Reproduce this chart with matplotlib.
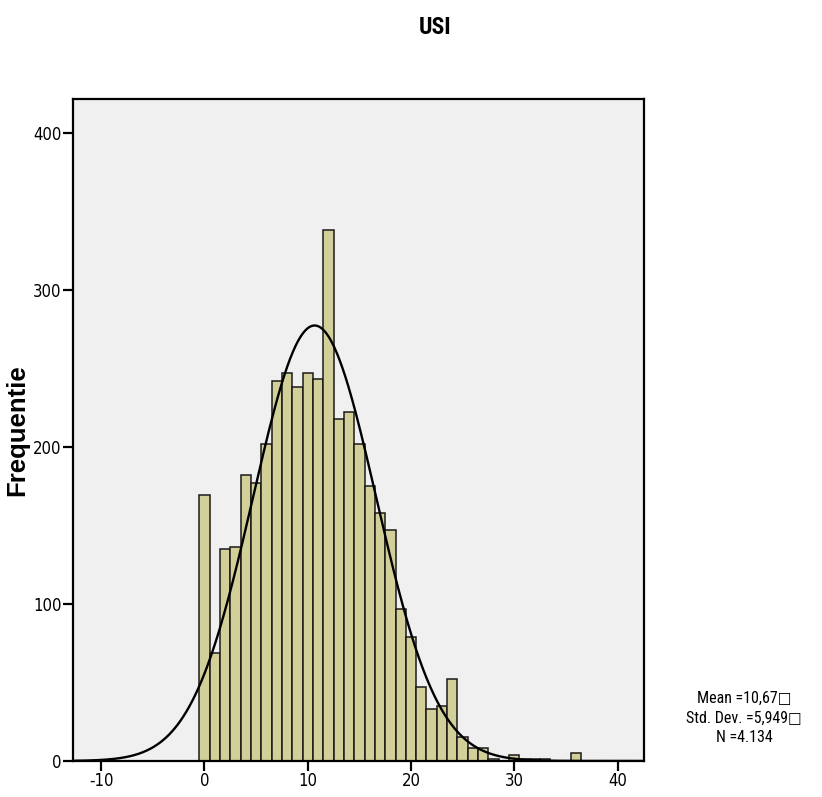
import matplotlib
matplotlib.use("Agg")
import matplotlib.pyplot as plt
import numpy as np

plt.rcParams['font.family'] = ['DejaVu Sans']
plt.rcParams['font.stretch'] = 'condensed'
plt.rcParams['axes.unicode_minus'] = False

# USI scores (integer bins) and their frequencies
usi_values = list(range(0, 37))
frequencies = [169, 69, 135, 136, 182, 177, 202, 242, 247, 238,
               247, 243, 338, 218, 222, 202, 175, 158, 147, 97,
               79, 47, 33, 35, 52, 15, 8, 8, 1, 0,
               4, 1, 1, 1, 0, 0, 5]
mean_usi = 10.67
sd_usi = 5.949
n_usi = 4134
stats_lines = ["Mean =10,67\u25a1", "Std. Dev. =5,949\u25a1", "N =4.134"]

fig = plt.figure(figsize=(8.22, 7.97), dpi=100)
ax = fig.add_axes([0.0884, 0.0452, 0.695, 0.8306])
ax.set_facecolor('#F0F0F0')

ax.bar(usi_values, frequencies, width=1.0, color='#D3CF99',
       edgecolor='#1a1a1a', linewidth=1.1, zorder=2)

# fitted normal curve
xs = np.linspace(-12.75, 42.55, 600)
curve = n_usi * 1.0 / (sd_usi * np.sqrt(2 * np.pi)) * np.exp(-0.5 * ((xs - mean_usi) / sd_usi) ** 2)
ax.plot(xs, curve, color='black', linewidth=1.7, zorder=3)

ax.set_xlim(-12.75, 42.55)
ax.set_ylim(0, 421.4)
ax.set_xticks([-10, 0, 10, 20, 30, 40])
ax.set_yticks([0, 100, 200, 300, 400])
ax.tick_params(direction='out', length=7, width=1.6, labelsize=12, pad=1)
for s in ax.spines.values():
    s.set_linewidth(1.6)
    s.set_color('black')

ax.set_ylabel("Frequentie", fontsize=18.5, fontweight='bold',
              family=['Liberation Sans', 'DejaVu Sans'], fontstretch='normal', labelpad=3)
fig.text(0.529, 0.966, "USI", ha='center', va='center', fontsize=17, fontweight='bold',
         family=['Roboto Condensed', 'DejaVu Sans'])
fig.text(0.905, 0.099, "\n".join(stats_lines), ha='center', va='center',
         fontsize=11.5, multialignment='center', linespacing=1.4,
         family=['Roboto Condensed', 'DejaVu Sans'])

plt.savefig("out.png", dpi=100)
